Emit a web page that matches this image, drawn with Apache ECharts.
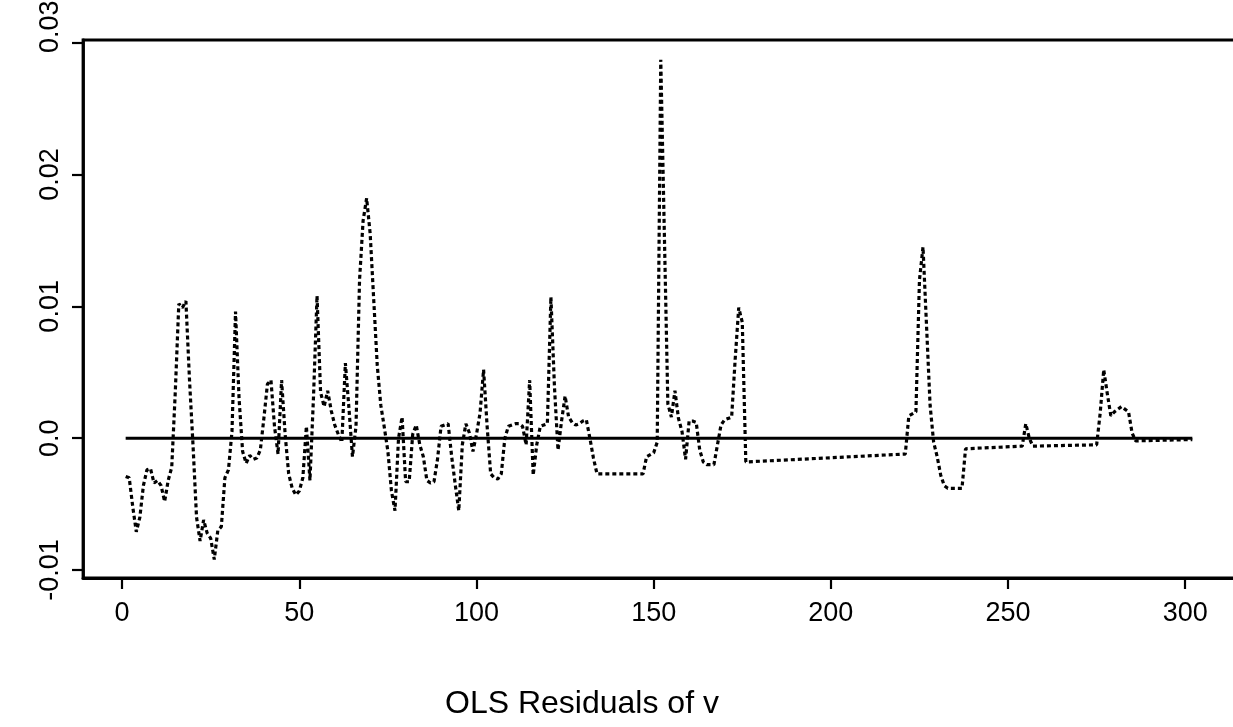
<!DOCTYPE html>
<html>
<head>
<meta charset="utf-8">
<script src="https://cdn.jsdelivr.net/npm/echarts@6/dist/echarts.min.js"></script>
<style>
  html, body { margin: 0; padding: 0; background: #fff; }
  #chart { width: 1233px; height: 727px; }
</style>
</head>
<body>
<div id="chart"></div>
<script>
// Observation index and OLS residual at that index
const obsIndex = [
  1, 2, 3, 4, 5, 6, 7, 8, 9, 10,
  11, 12, 13, 14, 15, 16, 17, 18, 19, 20,
  21, 22, 23, 24, 25, 26, 27, 28, 29, 30,
  31, 32, 33, 34, 35, 36, 37, 38, 39, 40,
  41, 42, 43, 44, 45, 46, 47, 48, 49, 50,
  51, 52, 53, 54, 55, 56, 57, 58, 59, 60,
  61, 62, 63, 64, 65, 66, 67, 68, 69, 70,
  71, 72, 73, 74, 75, 76, 77, 78, 79, 80,
  81, 82, 83, 84, 85, 86, 87, 88, 89, 90,
  91, 92, 93, 94, 95, 96, 97, 98, 99, 100,
  101, 102, 103, 104, 105, 106, 107, 108, 109, 110,
  111, 112, 113, 114, 115, 116, 117, 118, 119, 120,
  121, 122, 123, 124, 125, 126, 127, 128, 129, 130,
  131, 132, 133, 134, 138, 147, 148, 150, 151, 152,
  154, 155, 156, 157, 158, 159, 160, 161, 162, 163,
  164, 165, 167, 168, 169, 170, 172, 173, 174, 175,
  176, 221, 222, 224, 225, 226, 227, 228, 229, 230,
  231, 232, 233, 237, 238, 254, 255, 256, 257, 275,
  276, 277, 278, 279, 280, 282, 284, 285, 286, 302
];
const residuals = [
  -0.0029, -0.0030, -0.0052, -0.0071, -0.0060, -0.0036, -0.0024, -0.0023, -0.0034, -0.0032,
  -0.0036, -0.0048, -0.0032, -0.0022, 0.0035, 0.0102, 0.0099, 0.0104, 0.0045, -0.0005,
  -0.0060, -0.0078, -0.0062, -0.0072, -0.0076, -0.0092, -0.0070, -0.0067, -0.0030, -0.0024,
  0.0005, 0.0096, 0.0030, -0.0010, -0.0019, -0.0013, -0.0016, -0.0015, -0.0009, 0.0015,
  0.0041, 0.0044, 0.0009, -0.0012, 0.0044, 0.0003, -0.0027, -0.0038, -0.0043, -0.0040,
  -0.0030, 0.0009, -0.0032, 0.0031, 0.0108, 0.0035, 0.0024, 0.0036, 0.0021, 0.0010,
  0.0003, -0.0003, 0.0057, 0.0023, -0.0014, 0.0009, 0.0120, 0.0165, 0.0182, 0.0155,
  0.0105, 0.0055, 0.0025, 0.0008, -0.0010, -0.0040, -0.0055, 0.0000, 0.0016, -0.0033,
  -0.0033, 0.0003, 0.0010, -0.0005, -0.0014, -0.0032, -0.0034, -0.0033, -0.0016, 0.0009,
  0.0010, 0.0011, -0.0014, -0.0035, -0.0055, -0.0005, 0.0011, 0.0004, -0.0010, 0.0003,
  0.0019, 0.0052, 0.0009, -0.0027, -0.0030, -0.0031, -0.0027, 0.0000, 0.0009, 0.0010,
  0.0011, 0.0011, 0.0009, -0.0005, 0.0044, -0.0028, -0.0005, 0.0009, 0.0010, 0.0011,
  0.0107, 0.0039, -0.0009, 0.0013, 0.0032, 0.0016, 0.0012, 0.0010, 0.0011, 0.0013,
  0.0014, 0.0000, -0.0015, -0.0027, -0.0027, -0.0027, -0.0014, -0.0011, -0.0003, 0.0287,
  0.0026, 0.0016, 0.0036, 0.0015, 0.0005, -0.0016, 0.0013, 0.0013, 0.0012, -0.0009,
  -0.0018, -0.0020, -0.0020, -0.0005, 0.0010, 0.0014, 0.0016, 0.0060, 0.0099, 0.0088,
  -0.0018, -0.0012, 0.0017, 0.0020, 0.0120, 0.0145, 0.0085, 0.0025, -0.0003, -0.0014,
  -0.0028, -0.0036, -0.0038, -0.0038, -0.0008, -0.0006, 0.0011, 0.0000, -0.0006, -0.0005,
  0.0019, 0.0052, 0.0034, 0.0017, 0.0020, 0.0024, 0.0020, 0.0004, -0.0002, -0.0001
];

// Tick positions and their printed labels
const xTicks = [0, 50, 100, 150, 200, 250, 300];
const yTicks = [-0.01, 0.0, 0.01, 0.02, 0.03];
const yTickLabels = ['-0.01', '0.0', '0.01', '0.02', '0.03'];

const xLabel = 'OLS Residuals of v';

const FONT = 'Liberation Sans, Arial, Helvetica, sans-serif';

const residualPairs = obsIndex.map((x, i) => [x, residuals[i]]);
const zeroPairs = [[obsIndex[0], 0], [obsIndex[obsIndex.length - 1], 0]];

const chart = echarts.init(document.getElementById('chart'), null, { renderer: 'canvas' });

chart.setOption({
  backgroundColor: '#ffffff',
  animation: false,
  title: {
    text: xLabel,
    left: 440,
    top: 683,
    textStyle: { fontFamily: FONT, fontSize: 32, fontWeight: 'normal', color: '#000' }
  },
  grid: {
    left: 83,
    top: 40,
    width: 1160,
    height: 538,
    outerBoundsMode: 'none',
    containLabel: false,
    show: true,
    borderColor: '#000',
    borderWidth: 2.8,
    backgroundColor: 'transparent'
  },
  xAxis: {
    type: 'value',
    min: -11.04,
    max: 316.3,
    splitLine: { show: false },
    axisLine: { show: true, onZero: false, lineStyle: { color: '#000', width: 2.8 } },
    axisTick: { show: true, inside: false, length: 11, customValues: xTicks,
                lineStyle: { color: '#000', width: 2.2 } },
    axisLabel: { show: true, customValues: xTicks, margin: 22, color: '#000',
                 fontFamily: FONT, fontSize: 27 }
  },
  yAxis: {
    type: 'value',
    min: -0.0106,
    max: 0.0302,
    splitLine: { show: false },
    axisLine: { show: true, onZero: false, lineStyle: { color: '#000', width: 2.8 } },
    axisTick: { show: true, inside: false, length: 11, customValues: yTicks,
                lineStyle: { color: '#000', width: 2.2 } },
    axisLabel: {
      show: true,
      customValues: yTicks,
      rotate: 90,
      margin: 19,
      color: '#000',
      fontFamily: FONT,
      fontSize: 27,
      formatter: (v) => {
        const k = yTicks.findIndex(t => Math.abs(t - v) < 1e-9);
        if (k < 0) return '';
        // the top label sits a little higher, against the page edge
        return k === yTicks.length - 1 ? '{top|' + yTickLabels[k] + '}' : yTickLabels[k];
      },
      rich: {
        top: { fontFamily: FONT, fontSize: 27, color: '#000', padding: [0, 0, 0, 32] }
      }
    }
  },
  series: [
    {
      name: 'zero',
      type: 'line',
      data: zeroPairs,
      symbol: 'none',
      silent: true,
      lineStyle: { color: '#000', width: 3, type: 'solid' },
      z: 2
    },
    {
      name: 'residuals',
      type: 'line',
      data: residualPairs,
      symbol: 'none',
      smooth: false,
      lineStyle: { color: '#000', width: 3.2, type: [4, 3], cap: 'butt' },
      z: 3
    }
  ]
});
</script>
</body>
</html>
